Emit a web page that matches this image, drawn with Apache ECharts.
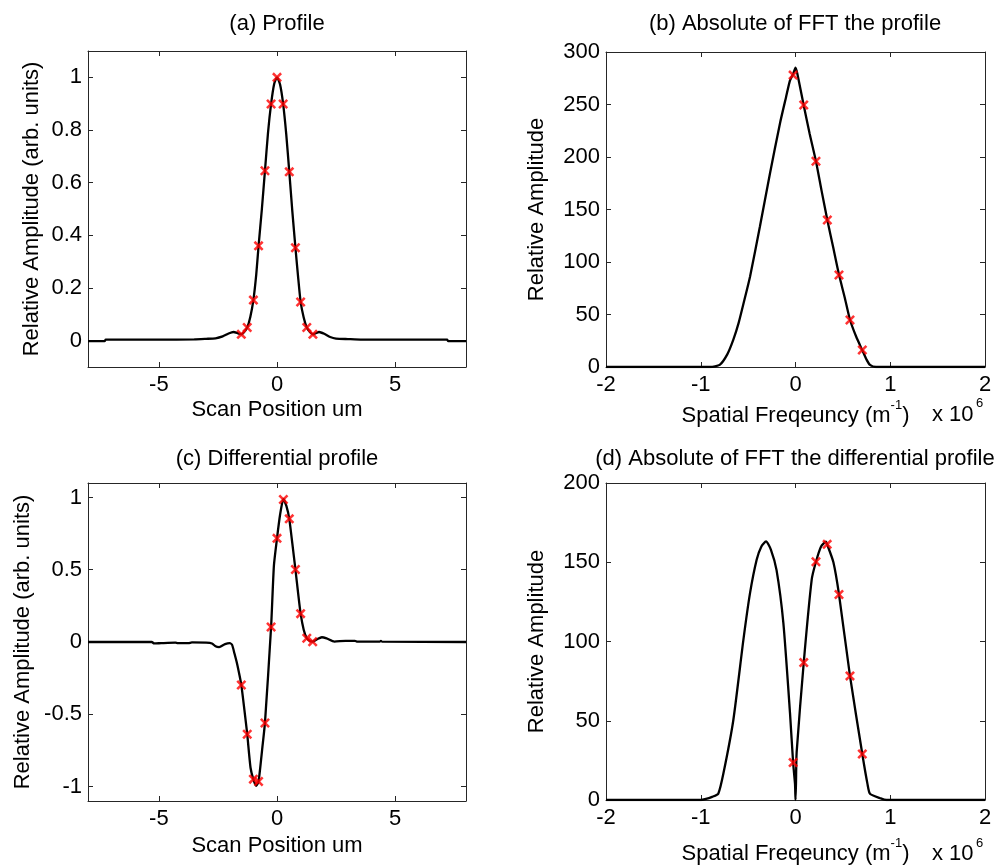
<!DOCTYPE html>
<html><head><meta charset="utf-8">
<script src="https://cdn.jsdelivr.net/npm/echarts@6/dist/echarts.min.js"></script>
<style>html,body{margin:0;padding:0;background:#fff}#c{width:1007px;height:868px}</style>
</head><body><div id="c"></div>
<script>
// ---------- data ----------
// (a) Profile
const profileX = [-8, -7.3, -7.25, -5, -3.5, -3.0, -2.6, -2.3, -2.05, -1.84, -1.65, -1.51, -1.4, -1.26, -1.13, -1.0, -0.88, -0.78, -0.64, -0.51, -0.38, -0.25, -0.12, 0, 0.13, 0.26, 0.39, 0.52, 0.65, 0.78, 0.89, 1.0, 1.13, 1.26, 1.4, 1.52, 1.63, 1.78, 2.0, 2.25, 2.5, 3.0, 3.6, 5, 7.2, 7.25, 8];
const profileY = [-0.002, -0.002, 0.004, 0.004, 0.005, 0.007, 0.009, 0.016, 0.027, 0.033, 0.028, 0.024, 0.032, 0.05, 0.09, 0.154, 0.25, 0.36, 0.5, 0.645, 0.79, 0.899, 0.975, 1.0, 0.973, 0.899, 0.785, 0.641, 0.49, 0.353, 0.245, 0.147, 0.088, 0.05, 0.032, 0.024, 0.028, 0.033, 0.026, 0.014, 0.008, 0.006, 0.004, 0.004, 0.004, -0.002, -0.002];
const profileMarkX = [-1.51, -1.26, -1.0, -0.78, -0.51, -0.25, 0, 0.26, 0.52, 0.78, 1.0, 1.26, 1.52];
const profileMarkY = [0.024, 0.05, 0.154, 0.36, 0.645, 0.899, 1.0, 0.899, 0.641, 0.353, 0.147, 0.05, 0.024];

// (b) Absolute of FFT the profile (x in units of 10^6 m^-1)
const fftX = [-2, -0.9, -0.8, -0.72, -0.656, -0.6, -0.55, -0.48, -0.375, -0.27, -0.164, -0.1, -0.058, -0.025, 0, 0.02, 0.087, 0.15, 0.216, 0.275, 0.336, 0.4, 0.459, 0.52, 0.575, 0.64, 0.705, 0.75, 0.786, 0.85, 2];
const fftY = [0, 0, 2, 12, 26, 42, 60, 86, 134, 184, 232, 257, 273, 279, 285, 279, 249, 222, 196, 168, 140, 113, 88, 66, 45, 29, 16, 7, 2, 0, 0];
const fftMarkX = [-0.025, 0.087, 0.216, 0.336, 0.459, 0.575, 0.705];
const fftMarkY = [278, 249.5, 196, 140, 87.6, 44.8, 16.2];

// (c) Differential profile
const diffX = [-8, -5.3, -5.2, -4.9, -4.3, -4.2, -3.75, -3.6, -3.0, -2.75, -2.6, -2.45, -2.2, -2.0, -1.9, -1.8, -1.69, -1.6, -1.51, -1.38, -1.26, -1.12, -1.0, -0.88, -0.78, -0.62, -0.51, -0.25, -0.13, 0, 0.13, 0.27, 0.4, 0.52, 0.65, 0.78, 0.9, 1.0, 1.13, 1.26, 1.38, 1.51, 1.7, 1.9, 2.1, 2.43, 2.9, 3.3, 3.4, 4.35, 4.4, 4.45, 8];
const diffY = [0, 0, -0.01, -0.008, -0.005, -0.008, -0.008, -0.003, -0.004, -0.01, -0.03, -0.035, -0.015, -0.008, -0.02, -0.08, -0.15, -0.22, -0.297, -0.47, -0.638, -0.87, -0.95, -0.995, -0.965, -0.73, -0.56, 0.104, 0.53, 0.717, 0.88, 0.99, 0.94, 0.852, 0.68, 0.502, 0.33, 0.196, 0.085, 0.026, 0.008, 0.002, 0.02, 0.033, 0.025, 0.003, 0.008, 0.008, 0.002, 0.002, 0.008, 0.002, 0];
const diffMarkX = [-1.51, -1.26, -1.0, -0.78, -0.51, -0.25, 0, 0.27, 0.52, 0.78, 1.0, 1.26, 1.51];
const diffMarkY = [-0.297, -0.638, -0.949, -0.965, -0.56, 0.104, 0.717, 0.986, 0.852, 0.502, 0.196, 0.026, 0.002];

// (d) Absolute of FFT the differential profile
const dfftX = [-2, -1.0, -0.955, -0.88, -0.815, -0.76, -0.656, -0.55, -0.48, -0.41, -0.36, -0.311, -0.26, -0.2, -0.128, -0.058, -0.025, -0.005, 0, 0.005, 0.012, 0.087, 0.171, 0.216, 0.27, 0.322, 0.334, 0.4, 0.459, 0.575, 0.705, 0.76, 0.786, 0.9, 0.96, 2];
const dfftY = [0, 0, 0.5, 2, 4, 17, 50.5, 101, 130.5, 151.6, 160, 163.2, 158, 145, 111.6, 54.8, 23.5, 10, 0, 10, 30, 86.7, 139, 150.3, 160, 163, 161.3, 150, 129.7, 78.3, 29, 10, 4, 1, 0, 0];
const dfftMarkX = [-0.025, 0.087, 0.216, 0.334, 0.459, 0.575, 0.705];
const dfftMarkY = [23.6, 86.7, 150.3, 161.3, 129.7, 78.3, 29];

// tick labels
const scanTicks = [-5, 0, 5];
const freqTicks = [-2, -1, 0, 1, 2];
const profileTicks = [0, 0.2, 0.4, 0.6, 0.8, 1];
const diffTicks = [-1, -0.5, 0, 0.5, 1];
const fftTicks = [0, 50, 100, 150, 200, 250, 300];
const dfftTicks = [0, 50, 100, 150, 200];

const titles = ['(a) Profile', '(b) Absolute of FFT the profile', '(c) Differential profile', '(d) Absolute of FFT the differential profile'];
const scanName = 'Scan Position um';
const ampName = 'Relative Amplitude (arb. units)';
const relName = 'Relative Amplitude';

// ---------- chart ----------
const FONT = '"Liberation Sans", Arial, sans-serif';
const FS = 22;
const AX = '#262626';
const XPATH = 'path://M0,1.8L1.8,0L5,3.2L8.2,0L10,1.8L6.8,5L10,8.2L8.2,10L5,6.8L1.8,10L0,8.2L3.2,5Z';

const grids = [
  {left: 88, top: 51, width: 378, height: 316},
  {left: 606, top: 52, width: 379, height: 315},
  {left: 88, top: 483, width: 378, height: 318},
  {left: 606, top: 483, width: 379, height: 317}
];

function pairs(xs, ys) { return xs.map((x, i) => [x, ys[i]]); }

const lab = {color: '#000', fontFamily: FONT, fontSize: FS};

function mkX(g, min, max, ticks, name, gap, rich) {
  const base = {
    type: 'value', gridIndex: g, min: min, max: max,
    axisLine: {show: true, onZero: false, lineStyle: {color: AX, width: 1}},
    axisTick: {show: true, inside: true, length: 5, customValues: ticks, lineStyle: {color: AX}},
    splitLine: {show: false}
  };
  const bottom = Object.assign({}, base, {
    position: 'bottom',
    axisLabel: Object.assign({margin: 7, customValues: ticks}, lab),
    name: name, nameLocation: 'middle', nameGap: gap,
    nameTextStyle: Object.assign({}, lab, rich ? {rich: rich} : {})
  });
  const top = Object.assign({}, base, {position: 'top', axisLabel: {show: false}});
  return [bottom, top];
}
function mkY(g, min, max, ticks, name, gap) {
  const base = {
    type: 'value', gridIndex: g, min: min, max: max,
    axisLine: {show: true, onZero: false, lineStyle: {color: AX, width: 1}},
    axisTick: {show: true, inside: true, length: 5, customValues: ticks, lineStyle: {color: AX}},
    splitLine: {show: false}
  };
  const left = Object.assign({}, base, {
    position: 'left',
    axisLabel: Object.assign({margin: 6, customValues: ticks}, lab),
    name: name, nameLocation: 'middle', nameGap: gap, nameTextStyle: lab
  });
  const right = Object.assign({}, base, {position: 'right', axisLabel: {show: false}});
  return [left, right];
}

const freqRich = {
  n: {fontFamily: FONT, fontSize: FS, color: '#000', lineHeight: 34, verticalAlign: 'middle'},
  s: {fontFamily: FONT, fontSize: 13, color: '#000', lineHeight: 14, verticalAlign: 'top'}
};
const freqName = '{n|Spatial Freqeuncy (m}{s|-1}{n|)}';

const xAxis = [].concat(
  mkX(0, -8, 8, scanTicks, scanName, 32),
  mkX(1, -2, 2, freqTicks, freqName, 32, freqRich),
  mkX(2, -8, 8, scanTicks, scanName, 34),
  mkX(3, -2, 2, freqTicks, freqName, 37, freqRich)
);
const yAxis = [].concat(
  mkY(0, -0.1, 1.1, profileTicks, ampName, 45),
  mkY(1, 0, 300, fftTicks, relName, 58),
  mkY(2, -1.1, 1.1, diffTicks, ampName, 54),
  mkY(3, 0, 200, dfftTicks, relName, 58)
);

const lines = [[profileX, profileY], [fftX, fftY], [diffX, diffY], [dfftX, dfftY]];
const marks = [[profileMarkX, profileMarkY], [fftMarkX, fftMarkY], [diffMarkX, diffMarkY], [dfftMarkX, dfftMarkY]];
const series = [];
lines.forEach((l, g) => {
  series.push({
    type: 'line', xAxisIndex: 2 * g, yAxisIndex: 2 * g, data: pairs(l[0], l[1]),
    showSymbol: false, smooth: 0.2, lineStyle: {color: '#000', width: 2.3}, z: 3, silent: true
  });
});
marks.forEach((m, g) => {
  series.push({
    type: 'scatter', xAxisIndex: 2 * g, yAxisIndex: 2 * g, data: pairs(m[0], m[1]),
    symbol: XPATH, symbolSize: 10, itemStyle: {color: '#ff0000'}, z: 5, silent: true
  });
});

const titleCenters = [[277, 13], [795, 13], [277, 448], [795, 448]];
const title = titles.map((t, i) => ({
  text: t, left: titleCenters[i][0], top: titleCenters[i][1], textAlign: 'center', padding: 0,
  textStyle: {fontFamily: FONT, fontSize: FS, fontWeight: 'normal', color: '#000'}
}));

const expo = [[405, 416], [845, 855]];
const graphic = [];
expo.forEach(e => {
  graphic.push({type: 'text', left: 932, top: e[1] - 12, style: {text: 'x 10', font: FS + 'px ' + FONT, fill: '#000'}});
  graphic.push({type: 'text', left: 976, top: e[0] - 8, style: {text: '6', font: '13px ' + FONT, fill: '#000'}});
});

const chart = echarts.init(document.getElementById('c'), null, {renderer: 'canvas'});
chart.setOption({
  animation: false,
  backgroundColor: '#fff',
  title: title,
  grid: grids,
  xAxis: xAxis,
  yAxis: yAxis,
  series: series,
  graphic: graphic
});
</script></body></html>
